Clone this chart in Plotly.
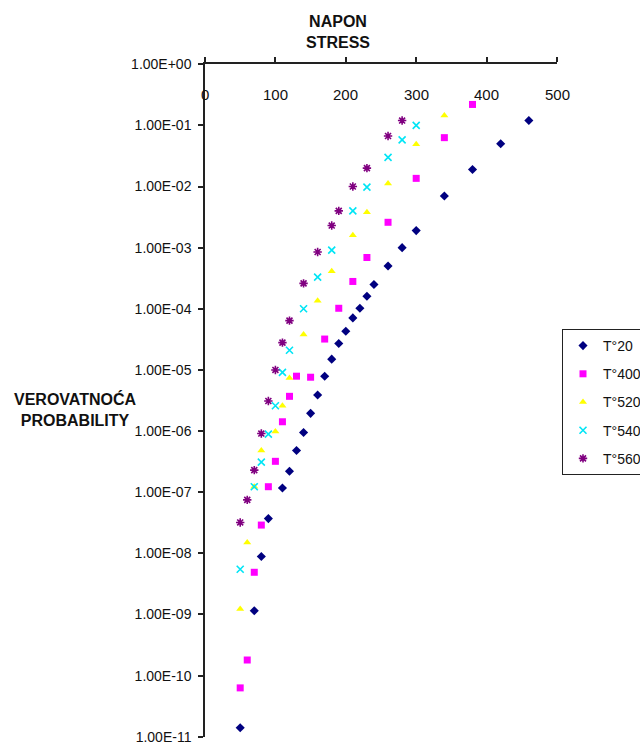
import plotly.graph_objects as go

# ---- data ----
t20_x = [50, 70, 80, 90, 110, 120, 130, 140, 150, 160, 170, 180, 190, 200, 210,
         220, 230, 240, 260, 280, 300, 340, 380, 420, 460]
t20_y = [1.4e-11, 1.15e-9, 8.9e-9, 3.7e-8, 1.17e-7, 2.2e-7, 4.8e-7, 9.5e-7, 1.95e-6,
         3.9e-6, 7.9e-6, 1.5e-5, 2.7e-5, 4.3e-5, 7.1e-5, 1.02e-4, 1.6e-4, 2.5e-4,
         5.0e-4, 1.0e-3, 1.9e-3, 7.0e-3, 1.9e-2, 5.0e-2, 0.12]

t400_x = [50, 60, 70, 80, 90, 100, 110, 120, 130, 150, 170, 190, 210, 230, 260,
          300, 340, 380]
t400_y = [6.3e-11, 1.8e-10, 4.9e-9, 2.9e-8, 1.23e-7, 3.2e-7, 1.42e-6, 3.7e-6, 7.9e-6,
          7.6e-6, 3.2e-5, 1.02e-4, 2.8e-4, 6.9e-4, 2.6e-3, 1.36e-2, 6.3e-2, 0.22]

t520_x = [50, 60, 70, 80, 100, 110, 120, 140, 160, 180, 210, 230, 260, 300, 340]
t520_y = [1.23e-9, 1.5e-8, 1.23e-7, 4.8e-7, 9.8e-7, 2.6e-6, 7.4e-6, 3.8e-5, 1.35e-4,
          4.1e-4, 1.6e-3, 3.8e-3, 1.12e-2, 4.9e-2, 0.145]

t540_x = [50, 70, 80, 90, 100, 110, 120, 140, 160, 180, 210, 230, 260, 280, 300]
t540_y = [5.5e-9, 1.23e-7, 3.1e-7, 8.9e-7, 2.6e-6, 9.1e-6, 2.1e-5, 1.0e-4, 3.3e-4,
          9.1e-4, 4.0e-3, 9.8e-3, 3.0e-2, 5.8e-2, 0.1]

t560_x = [50, 60, 70, 80, 90, 100, 110, 120, 140, 160, 180, 190, 210, 230, 260, 280]
t560_y = [3.2e-8, 7.5e-8, 2.3e-7, 9.1e-7, 3.1e-6, 1.0e-5, 2.8e-5, 6.4e-5, 2.6e-4,
          8.5e-4, 2.3e-3, 4.0e-3, 1.0e-2, 2.0e-2, 6.7e-2, 0.12]

series_names = ["T°20", "T°400", "T°520", "T°540", "T°560"]

x_ticks = [0, 100, 200, 300, 400, 500]
x_ticktext = ["0", "100", "200", "300", "400", "500"]
y_exps = list(range(0, -12, -1))
y_tickvals = [10.0 ** e for e in y_exps]
y_ticktext = ["1.00E+00"] + ["1.00E-%02d" % (-e) for e in y_exps[1:]]

TICKFONT = "Liberation Sans, Arial, sans-serif"
BOLD = "Liberation Sans, Arial, sans-serif"

styles = [
    dict(symbol="diamond", color="#000080", size=7, line=dict(width=0)),
    dict(symbol="square", color="#FF00FF", size=7, line=dict(width=0)),
    dict(symbol="triangle-up", color="#FFFF00", size=7, line=dict(width=0)),
    dict(symbol="x-thin-open", color="#00E5F5", size=7, line=dict(width=1.6, color="#00E5F5")),
    dict(symbol="asterisk-open", color="#800080", size=7, line=dict(width=1.6, color="#800080")),
]

xs = [t20_x, t400_x, t520_x, t540_x, t560_x]
ys = [t20_y, t400_y, t520_y, t540_y, t560_y]

fig = go.Figure()
for i, (name, x, y, st) in enumerate(zip(series_names, xs, ys, styles)):
    fig.add_trace(go.Scatter(x=x, y=y, mode="markers", name=name,
                             legendgroup=name, marker=st))

PLOT_H = 746 - 64 - 9

annotations = [
    dict(text="<b>NAPON<br>STRESS</b>", xref="paper", yref="paper",
         x=(338 - 205) / 352, y=1, yshift=11, xanchor="center", yanchor="bottom",
         showarrow=False, font=dict(family=BOLD, size=16, color="#111")),
    dict(text="<b>VEROVATNOĆA<br>PROBABILITY</b>", xref="paper", yref="paper",
         x=0, xshift=-130, y=1 - (410 - 64) / PLOT_H, xanchor="center", yanchor="middle",
         showarrow=False, font=dict(family=BOLD, size=16, color="#111")),
]
# x tick labels sit below the top axis line, as in the reference
for v, t in zip(x_ticks, x_ticktext):
    annotations.append(dict(text=t, x=v, xref="x", y=1, yref="paper", yshift=-30,
                            xanchor="center", yanchor="middle", showarrow=False,
                            font=dict(family=TICKFONT, size=15, color="#111")))

fig.update_layout(
    width=640, height=746,
    margin=dict(l=205, r=83, t=64, b=9, autoexpand=False),
    plot_bgcolor="white", paper_bgcolor="white",
    showlegend=True,
    legend=dict(x=(562 - 205) / 352, y=1 - (329 - 64) / PLOT_H, xanchor="left", yanchor="top",
                bordercolor="#222", borderwidth=1, bgcolor="white",
                font=dict(family=TICKFONT, size=14, color="#111"),
                traceorder="grouped", tracegroupgap=7, itemwidth=30),
    xaxis=dict(range=[0, 500], tickvals=x_ticks, side="top", showticklabels=False,
               showline=True, linecolor="#222", linewidth=1.5,
               ticks="outside", ticklen=5, tickcolor="#222", tickwidth=1.5,
               showgrid=False, zeroline=False),
    yaxis=dict(type="log", range=[-11.004, 0.004], tickvals=y_tickvals, ticktext=y_ticktext,
               showline=True, linecolor="#222", linewidth=1.5,
               ticks="outside", ticklen=5, tickcolor="#222", tickwidth=1.5,
               showgrid=False, zeroline=False, ticklabelstandoff=4,
               ticklabeloverflow="allow",
               tickfont=dict(family=TICKFONT, size=14, color="#111")),
    annotations=annotations,
)

fig.write_html("out.html", config={"displayModeBar": False},
               post_script="document.body.style.margin='0';")
